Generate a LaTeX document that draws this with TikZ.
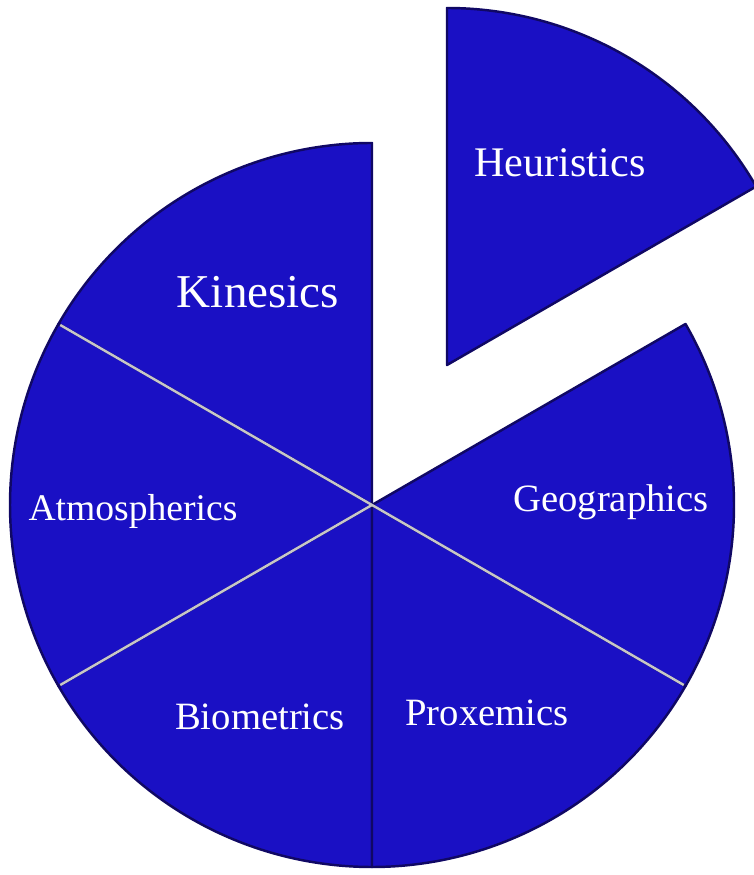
\documentclass[tikz,border=0pt]{standalone}
\usepackage{fontspec}
\setmainfont{Liberation Serif}
\usepackage{xcolor}
\definecolor{pieblue}{RGB}{26,16,196}
\definecolor{pieedge}{RGB}{16,8,100}

\begin{document}
\begin{tikzpicture}[slice/.style={fill=pieblue,draw=pieedge,line width=0.7pt,line join=round},
sep/.style={draw=black!22,line width=0.7pt},
lbl/.style={text=white,anchor=base,font=\fontsize{11}{13}\selectfont}]
\useasboundingbox (0,0) rectangle (7.54,8.75);
\clip (0,0) rectangle (7.54,8.75);
\coordinate (c) at (3.72,3.70);
\coordinate (h) at (4.47,5.10);
\foreach \a in {-150,-90,-30,90,150}
\filldraw[slice] (c) -- ++(\a:3.62) arc[start angle=\a,delta angle=60,radius=3.62] -- cycle;
\filldraw[slice] (h) -- ++(30:3.57) arc[start angle=30,end angle=90,radius=3.57] -- cycle;
\draw[sep] (c) -- ++(150:3.6) (c) -- ++(-150:3.6) (c) -- ++(-30:3.6);
\node[lbl,font=\fontsize{12}{14}\selectfont] (heur) at (5.60,6.98) {Heuristics};
\node[lbl,font=\fontsize{13.4}{16}\selectfont] (kine) at (2.58,5.67) {Kinesics};
\node[lbl,font=\fontsize{10.7}{13}\selectfont] (atmo) at (1.33,3.54) {Atmospherics};
\node[lbl] (geog) at (6.11,3.63) {Geographics};
\node[lbl] (prox) at (4.87,1.49) {Proxemics};
\node[lbl] (biom) at (2.60,1.45) {Biometrics};
\end{tikzpicture}
\end{document}
